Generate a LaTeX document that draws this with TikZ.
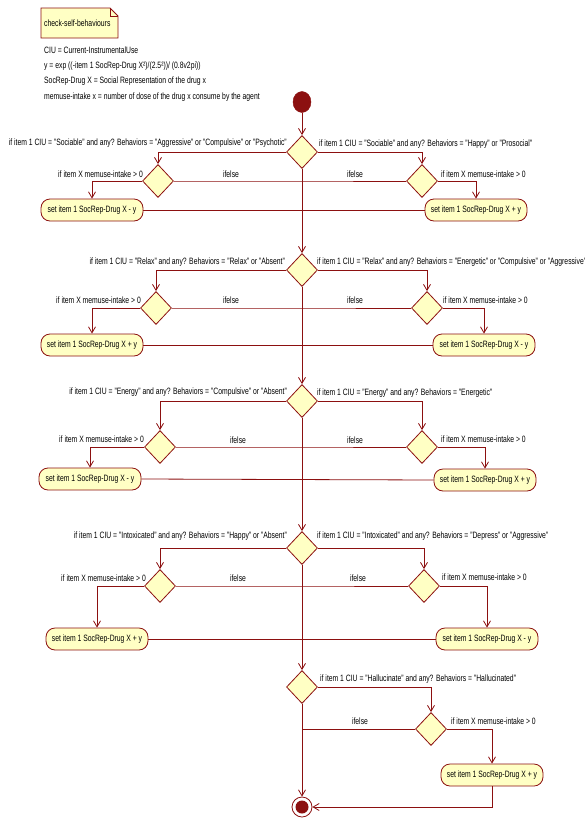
\documentclass[tikz,border=0pt]{standalone}
\usepackage{fontspec}
\setmainfont{Liberation Sans}[FakeStretch=0.74]
\usetikzlibrary{shapes.geometric,arrows.meta}
\definecolor{dred}{RGB}{140,16,16}
\definecolor{lyel}{RGB}{255,255,196}
\newcommand{\lblfont}{\fontsize{9.2}{11}\selectfont}
\tikzset{
  dia/.style={diamond, draw=dred, fill=lyel, line width=0.8pt, minimum width=31pt, minimum height=33pt, inner sep=0pt},
  act/.style={rectangle, rounded corners=9pt, draw=dred, fill=lyel, line width=0.8pt, minimum width=102pt, minimum height=22pt, inner sep=2pt, font=\lblfont},
  lab/.style={font=\lblfont, inner sep=0pt},
  flow/.style={draw=dred, line width=0.8pt},
  arr/.style={flow, -{Straight Barb[length=6pt,width=7pt]}},
}
\begin{document}
\begin{tikzpicture}[x=1pt,y=-1pt]
\useasboundingbox (0,0) rectangle (585,822);
\fill[white] (0,0) rectangle (585,822);
% note
\filldraw[draw=dred, fill=lyel, line width=0.8pt] (41,8) -- (110,8) -- (118,16) -- (118,38) -- (41,38) -- cycle;
\draw[dred, line width=0.8pt] (110,8) -- (110,16) -- (118,16);
\node[lab, anchor=west] (notetxt) at (44,23) {check-self-behaviours};
\node[lab, anchor=west] (n1) at (44,50) {CIU = Current-InstrumentalUse};
\node[lab, anchor=west] (n2) at (44,66) {y = exp ((-item 1 SocRep-Drug X²)/(2.5²))/ (0.8v2pi))};
\node[lab, anchor=west] (n3) at (44,81) {SocRep-Drug X = Social Representation of the drug x};
\node[lab, anchor=west] (n4) at (44,97) {memuse-intake x = number of dose of the drug x consume by the agent};
% start
\node[ellipse, fill=dred, draw=dred, minimum width=18pt, minimum height=21pt, inner sep=0pt] (start) at (302,102) {};
% ---------------- block 1
\node[dia] (B1) at (302,152) {};
\node[dia] (L1d) at (158,181) {};
\node[dia] (R1d) at (422,181) {};
\node[act] (L1a) at (92,210) {set item 1 SocRep-Drug X - y};
\node[act] (R1a) at (476,210) {set item 1 SocRep-Drug X + y};
\coordinate (M1e) at (302,181);
\node[lab, anchor=east] (B1l) at (287,143) {if item 1 CIU = "Sociable" and any? Behaviors = "Aggressive" or "Compulsive" or "Psychotic"};
\node[lab, anchor=west] (B1r) at (319,144) {if item 1 CIU = "Sociable" and any? Behaviors = "Happy" or "Prosocial"};
\node[lab, anchor=east] (L1l) at (143,174) {if item X memuse-intake > 0};
\node[lab, anchor=west] (R1l) at (441,174) {if item X memuse-intake > 0};
\node[lab] (E1l) at (231,174) {ifelse};
\node[lab] (E1r) at (355,174) {ifelse};
\draw[arr] (start) -- (B1.north);
\draw[arr] (B1.west) -| (L1d.north);
\draw[arr] (B1.east) -| (R1d.north);
\draw[arr] (L1d.west) -| (L1a.north);
\draw[arr] (R1d.east) -| (R1a.north);
\draw[flow] (L1d.east) -- (M1e) -- (R1d.west);
\draw[flow] (L1a.east) -- (R1a.west);
% ---------------- block 2
\node[dia] (B2) at (302,270) {};
\node[dia] (L2d) at (156,308) {};
\node[dia] (R2d) at (427,308) {};
\node[act] (L2a) at (92,345) {set item 1 SocRep-Drug X + y};
\node[act] (R2a) at (484,345) {set item 1 SocRep-Drug X - y};
\coordinate (M2e) at (302,308);
\node[lab, anchor=east] (B2l) at (285,262) {if item 1 CIU = "Relax" and any? Behaviors = "Relax" or "Absent"};
\node[lab, anchor=west] (B2r) at (317,262) {if item 1 CIU = "Relax" and any? Behaviors = "Energetic" or "Compulsive" or "Aggressive"};
\node[lab, anchor=east] (L2l) at (141,300) {if item X memuse-intake > 0};
\node[lab, anchor=west] (R2l) at (443,300) {if item X memuse-intake > 0};
\node[lab] (E2l) at (231,300) {ifelse};
\node[lab] (E2r) at (355,300) {ifelse};
\draw[arr] (B1.south) -- (B2.north);
\draw[arr] (B2.west) -| (L2d.north);
\draw[arr] (B2.east) -| (R2d.north);
\draw[arr] (L2d.west) -| (L2a.north);
\draw[arr] (R2d.east) -| (R2a.north);
\draw[flow] (L2d.east) -- (M2e) -- (R2d.west);
\draw[flow] (L2a.east) -- (R2a.west);
% ---------------- block 3
\node[dia] (B3) at (302,401) {};
\node[dia] (L3d) at (160,447) {};
\node[dia] (R3d) at (422,447) {};
\node[act] (L3a) at (90,479) {set item 1 SocRep-Drug X - y};
\node[act] (R3a) at (485,480) {set item 1 SocRep-Drug X + y};
\coordinate (M3e) at (302,447);
\node[lab, anchor=east] (B3l) at (287,392) {if item 1 CIU = "Energy" and any? Behaviors = "Compulsive" or "Absent"};
\node[lab, anchor=west] (B3r) at (317,393) {if item 1 CIU = "Energy" and any? Behaviors = "Energetic"};
\node[lab, anchor=east] (L3l) at (144,439) {if item X memuse-intake > 0};
\node[lab, anchor=west] (R3l) at (441,439) {if item X memuse-intake > 0};
\node[lab] (E3l) at (238,440) {ifelse};
\node[lab] (E3r) at (355,440) {ifelse};
\draw[arr] (B2.south) -- (B3.north);
\draw[arr] (B3.west) -| (L3d.north);
\draw[arr] (B3.east) -| (R3d.north);
\draw[arr] (L3d.west) -| (L3a.north);
\draw[arr] (R3d.east) -| (R3a.north);
\draw[flow] (L3d.east) -- (M3e) -- (R3d.west);
\draw[flow] (L3a.east) -- (R3a.west);
% ---------------- block 4
\node[dia] (B4) at (302,548) {};
\node[dia] (L4d) at (160,586) {};
\node[dia] (R4d) at (424,586) {};
\node[act] (L4a) at (97,639) {set item 1 SocRep-Drug X + y};
\node[act] (R4a) at (487,639) {set item 1 SocRep-Drug X - y};
\coordinate (M4e) at (302,586);
\node[lab, anchor=east] (B4l) at (287,536) {if item 1 CIU = "Intoxicated" and any? Behaviors = "Happy" or "Absent"};
\node[lab, anchor=west] (B4r) at (317,536) {if item 1 CIU = "Intoxicated" and any? Behaviors = "Depress" or "Aggressive"};
\node[lab, anchor=east] (L4l) at (146,578) {if item X memuse-intake > 0};
\node[lab, anchor=west] (R4l) at (442,577) {if item X memuse-intake > 0};
\node[lab] (E4l) at (238,578) {ifelse};
\node[lab] (E4r) at (358,578) {ifelse};
\draw[arr] (B3.south) -- (B4.north);
\draw[arr] (B4.west) -| (L4d.north);
\draw[arr] (B4.east) -| (R4d.north);
\draw[arr] (L4d.west) -| (L4a.north);
\draw[arr] (R4d.east) -| (R4a.north);
\draw[flow] (L4d.east) -- (M4e) -- (R4d.west);
\draw[flow] (L4a.east) -- (R4a.west);
% ---------------- block 5
\node[dia] (B5) at (302,687) {};
\node[dia] (R5d) at (431,729) {};
\node[act] (R5a) at (492,775) {set item 1 SocRep-Drug X + y};
\coordinate (M5e) at (302,729);
\node[lab, anchor=west] (B5r) at (320,679) {if item 1 CIU = "Hallucinate" and any? Behaviors = "Hallucinated"};
\node[lab, anchor=west] (R5l) at (451,721) {if item X memuse-intake > 0};
\node[lab] (E5l) at (360,721) {ifelse};
\node[circle, draw=dred, line width=0.8pt, fill=white, minimum size=20pt, inner sep=0pt] (end) at (302,807) {};
\node[circle, fill=dred, minimum size=13pt, inner sep=0pt] (endin) at (end.center) {};
\draw[arr] (B4.south) -- (B5.north);
\draw[arr] (B5.east) -| (R5d.north);
\draw[arr] (R5d.east) -| (R5a.north);
\draw[flow] (R5d.west) -- (M5e);
\draw[arr] (B5.south) -- (end.north);
\draw[arr] (R5a.south) |- (end.east);
\end{tikzpicture}
\end{document}
